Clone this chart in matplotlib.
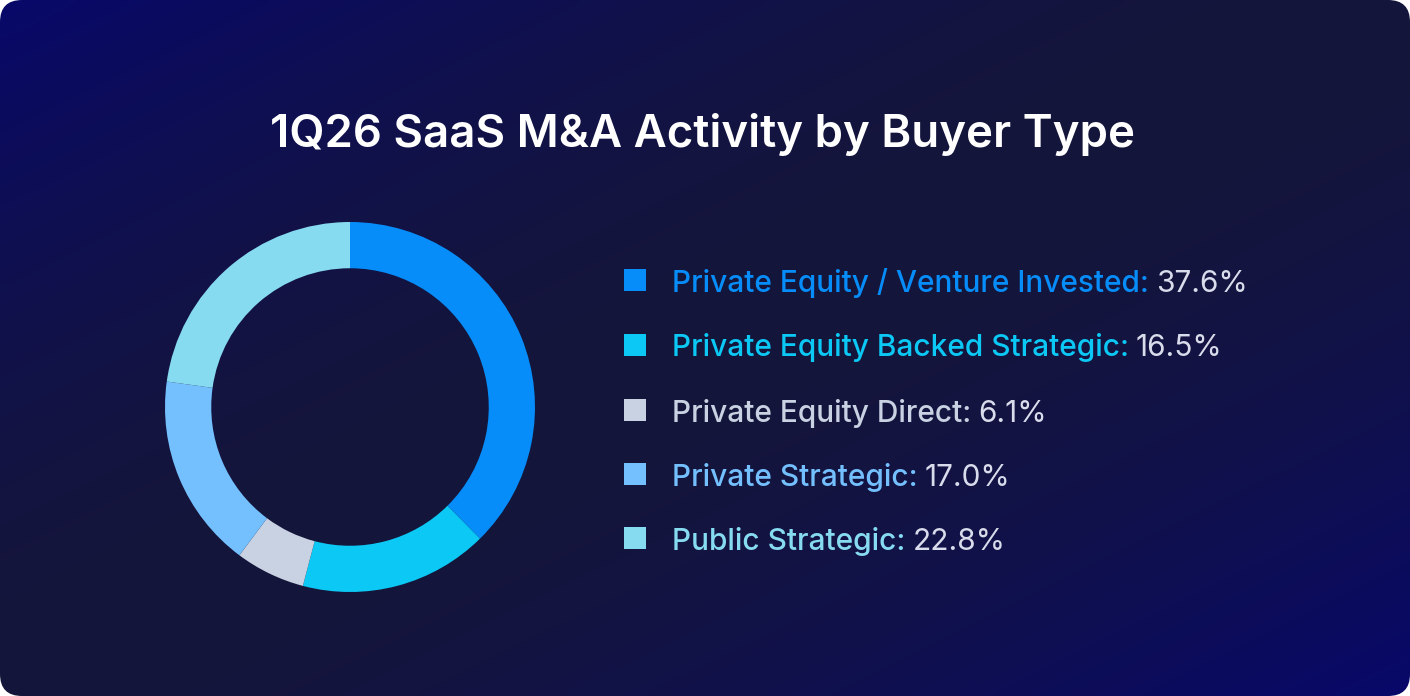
import numpy as np
import matplotlib
matplotlib.use("Agg")
import matplotlib.pyplot as plt
from matplotlib.patches import FancyBboxPatch
from matplotlib.colors import to_rgb

plt.rcParams["font.family"] = ["Inter", "DejaVu Sans"]

categories = [
    "Private Equity / Venture Invested",
    "Private Equity Backed Strategic",
    "Private Equity Direct",
    "Private Strategic",
    "Public Strategic",
]
shares = [37.6, 16.5, 6.1, 17.0, 22.8]
colors = ["#068DF9", "#0BC8F5", "#C8D2E2", "#74C0FF", "#87DBF0"]
title = "1Q26 SaaS M&A Activity by Buyer Type"

W, H = 1410, 696
fig = plt.figure(figsize=(W / 100, H / 100), dpi=100, facecolor="white")

# background card with diagonal gradient
bg = fig.add_axes([0, 0, 1, 1])
bg.set_xlim(0, W)
bg.set_ylim(H, 0)
bg.axis("off")
xx, yy = np.meshgrid(np.linspace(0, 1, 300), np.linspace(0, 1, 150))
t = np.clip(np.abs(xx + yy - 1.0), 0, 1) ** 1.6
dark = np.array(to_rgb("#15163A"))
blue = np.array(to_rgb("#08086A"))
img = dark[None, None, :] * (1 - t[..., None]) + blue[None, None, :] * t[..., None]
im = bg.imshow(img, extent=[0, W, H, 0], aspect="auto", interpolation="bilinear")
card = FancyBboxPatch((0, 0), W, H, boxstyle="round,pad=0,rounding_size=22",
                      facecolor="none", edgecolor="none", transform=bg.transData)
bg.add_patch(card)
im.set_clip_path(card)

fig.text(702 / W, 1 - 134 / H, title, color="white", fontsize=32.8,
         fontweight="semibold", ha="center", va="center")

# donut
cx, cy, R = 350, 407, 185
ax = fig.add_axes([(cx - R) / W, (H - cy - R) / H, 2 * R / W, 2 * R / H])
ax.pie(shares, colors=colors, startangle=90, counterclock=False,
       wedgeprops=dict(width=0.25, linewidth=0))
ax.set_xlim(-1, 1)
ax.set_ylim(-1, 1)
ax.set_aspect("equal")
ax.axis("off")

# legend
row_y = [280, 345, 410, 474, 538]
for name, val, col, y in zip(categories, shares, colors, row_y):
    bg.add_patch(plt.Rectangle((624, y - 11), 22, 22, facecolor=col, edgecolor="none"))
    lab = bg.text(672, y, name + ":", color=col, fontsize=21.5, fontweight="medium",
                  ha="left", va="center_baseline")
    bg.annotate(f"{val:.1f}%", xy=(1, 0), xycoords=lab, xytext=(5, 0),
                textcoords="offset points", color="#D9DCEB", fontsize=21.5,
                ha="left", va="bottom")

fig.savefig("out.png", dpi=100, facecolor="white")
